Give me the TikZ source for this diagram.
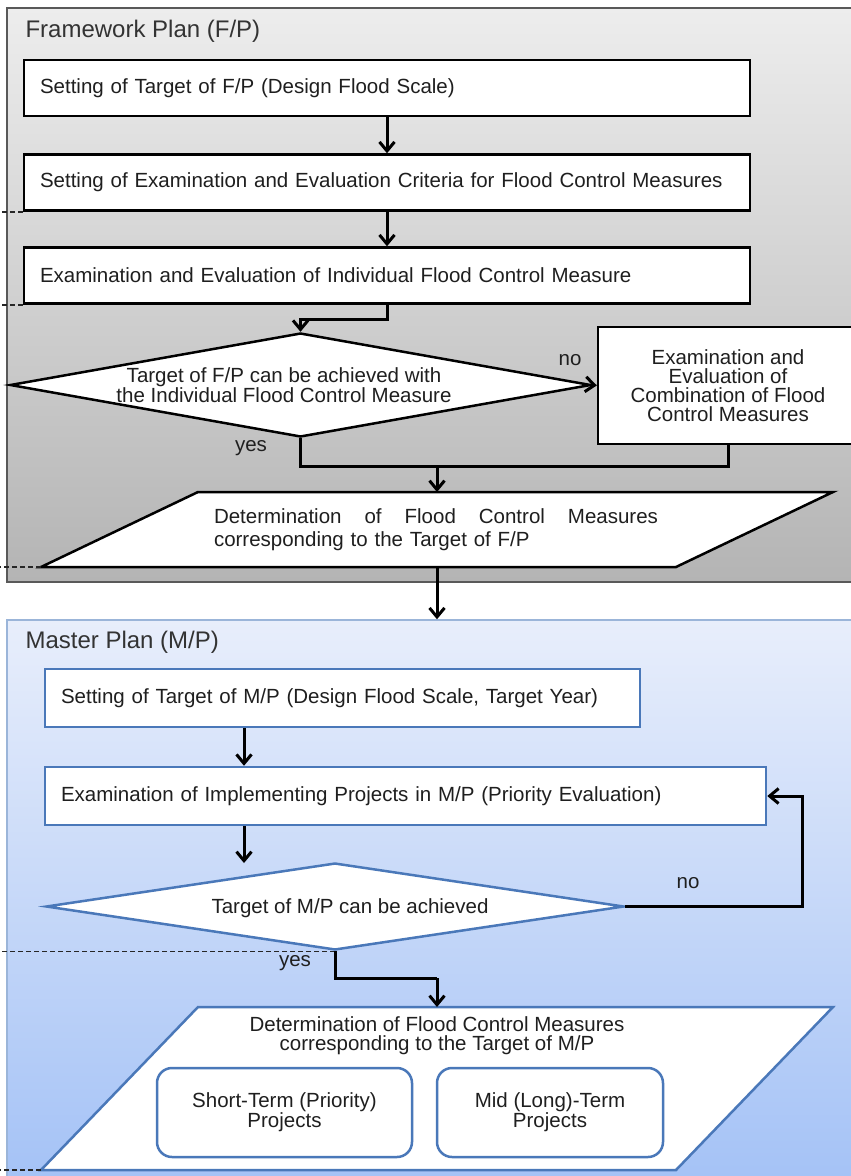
\documentclass[tikz,border=0pt]{standalone}
\usepackage{fontspec}
\setmainfont{Liberation Sans}
\usetikzlibrary{arrows.meta,shapes.geometric}
\definecolor{mpline}{RGB}{74,120,185}
\definecolor{fptop}{RGB}{237,237,237}
\definecolor{fpbot}{RGB}{180,180,180}
\definecolor{mptop}{RGB}{232,238,251}
\definecolor{mpbot}{RGB}{164,194,246}
\begin{document}
\begin{tikzpicture}[x=1pt,y=-1pt,
  txt/.style={font=\fontsize{20.5}{19}\selectfont,text=black!88},
  ttl/.style={font=\fontsize{24}{24}\selectfont,text=black!80,anchor=west},
  fpbox/.style={txt,draw=black,line width=2.5pt,fill=white,inner xsep=16pt,inner ysep=0pt,align=left},
  mpbox/.style={fpbox,draw=mpline},
  fpdec/.style={diamond,draw=black,line width=2.5pt,fill=white,inner sep=0pt},
  mpdec/.style={fpdec,draw=mpline},
  subbox/.style={txt,draw=mpline,line width=2.5pt,fill=white,rounded corners=15pt,align=center,minimum height=89},
  link/.style={line width=3pt},
  arr/.style={link,-{Straight Barb[length=9pt,width=15pt]}},
  guide/.style={dash pattern=on 5pt off 3pt,line width=1.5pt,black!85}]
\useasboundingbox (0,0) rectangle (851,1176);

% the two plan frames
\node[draw=black!65,line width=1.5pt,top color=fptop,bottom color=fpbot,minimum width=880,minimum height=574,inner sep=0pt] (fpf) at (447,295) {};
\node[draw=mpline!55,line width=1.5pt,top color=mptop,bottom color=mpbot,minimum width=880,minimum height=565,inner sep=0pt] (mpf) at (447,902.5) {};
\node[ttl] (fpt) at (22,31) {Framework Plan (F/P)};
\node[ttl] (mpt) at (22,642) {Master Plan (M/P)};

% framework plan
\node[fpbox,minimum width=726,minimum height=56,text width=694] (fp1) at (387,88) {Setting of Target of F/P (Design Flood Scale)};
\node[fpbox,minimum width=726,minimum height=56,text width=694] (fp2) at (387,182.5) {Setting of Examination and Evaluation Criteria for Flood Control Measures};
\node[fpbox,minimum width=726,minimum height=56,text width=694] (fp3) at (387,275.5) {Examination and Evaluation of Individual Flood Control Measure};
\node[fpdec,minimum width=581,minimum height=104] (d1) at (300.5,385) {};
\node[txt,align=center] (d1t) at (284,385) {Target of F/P can be achieved with\\the Individual Flood Control Measure};
\node[fpbox,minimum width=260,minimum height=117,align=center] (fp4) at (728,385.5) {Examination and\\Evaluation of\\Combination of Flood\\Control Measures};
\coordinate (p1nw) at (198,492);
\coordinate (p1ne) at (833,492);
\coordinate (p1se) at (676,567);
\coordinate (p1sw) at (41,567);
\coordinate (p1n) at (437,492);
\coordinate (p1s) at (437,567);
\draw[line width=2.5pt,fill=white] (p1nw) -- (p1ne) -- (p1se) -- (p1sw) -- cycle;
\node[txt,text width=444,align=left,font=\fontsize{20.5}{23}\selectfont] (p1t) at (436,530) {Determination\hfill of\hfill Flood\hfill Control\hfill Measures\\corresponding to the Target of F/P};

% master plan
\node[mpbox,minimum width=595,minimum height=58,text width=563] (mp1) at (342.5,698) {Setting of Target of M/P (Design Flood Scale, Target Year)};
\node[mpbox,minimum width=721,minimum height=58,text width=689] (mp2) at (405.5,796) {Examination of Implementing Projects in M/P (Priority Evaluation)};
\node[mpdec,minimum width=578,minimum height=87] (d2) at (335,906.5) {};
\node[txt] (d2t) at (350,908) {Target of M/P can be achieved};
\coordinate (p2nw) at (198,1007);
\coordinate (p2ne) at (833,1007);
\coordinate (p2se) at (676,1170);
\coordinate (p2sw) at (41,1170);
\coordinate (p2n) at (437,1007);
\draw[draw=mpline,line width=2.5pt,fill=white] (p2nw) -- (p2ne) -- (p2se) -- (p2sw) -- cycle;
\node[txt,align=center] (p2t) at (437,1035.5) {Determination of Flood Control Measures\\corresponding to the Target of M/P};
\node[subbox,minimum width=255] (st) at (284.5,1112.5) {Short-Term (Priority)\\Projects};
\node[subbox,minimum width=226] (lt) at (550,1112.5) {Mid (Long)-Term\\Projects};

% left guide marks
\coordinate (edge) at (0,0);
\foreach \a in {fp2.south west,fp3.south west,p1sw,d2.south,p2sw}
  \draw[guide] (\a) -- (\a -| edge);

% connectors
\coordinate (mcol) at (244,0);
\coordinate (ncol) at (802,0);
\coordinate (j1) at (437,466);
\coordinate (j2) at (437,978);
\coordinate (d2tip) at (244,863);
\draw[arr] (fp1.south) -- (fp2.north);
\draw[arr] (fp2.south) -- (fp3.north);
\draw[arr] (fp3.south) -- ++(0,15) -| (d1.north);
\draw[arr] (d1.east) -- (fp4.west);
\draw[link] (d1.south) |- (j1);
\draw[link] (fp4.south) |- (j1);
\draw[arr] (j1) -- (p1n);
\draw[arr] (p1s) -- (p1s |- mpf.north);
\draw[arr] (mp1.south -| mcol) -- (mp2.north -| mcol);
\draw[arr] (mp2.south -| mcol) -- (d2tip);
\draw[arr] (d2.east) -- (d2.east -| ncol) |- (mp2.east);
\draw[link] (d2.south) |- (j2);
\draw[arr] (j2) -- (p2n);
\node[txt] (no1) at (570,360) {no};
\node[txt] (yes1) at (251,448) {yes};
\node[txt] (no2) at (688,883) {no};
\node[txt] (yes2) at (295,963) {yes};
\end{tikzpicture}
\end{document}
